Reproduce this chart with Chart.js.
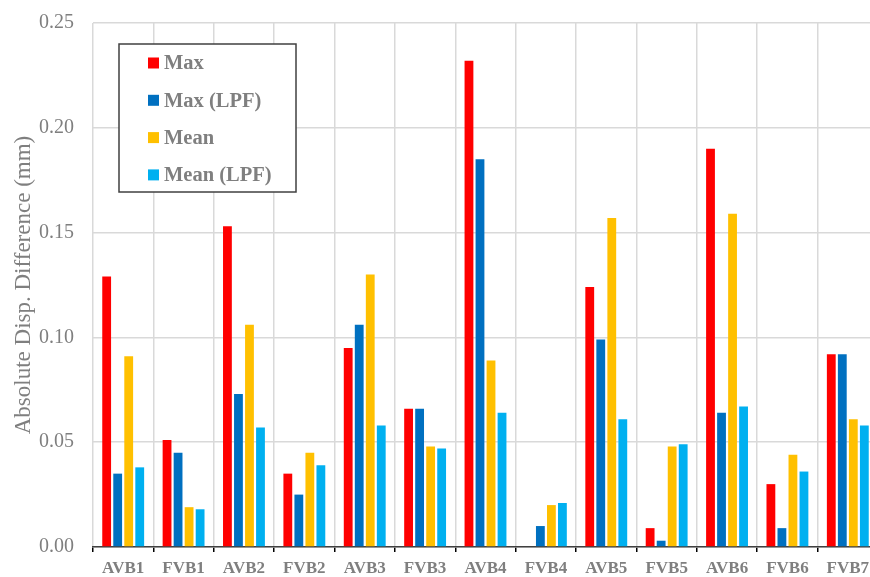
<!DOCTYPE html>
<html>
<head>
<meta charset="utf-8">
<script src="https://cdn.jsdelivr.net/npm/chart.js@4/dist/chart.umd.min.js"></script>
<style>
  html, body { margin: 0; padding: 0; background: #fff; overflow: hidden; }
  canvas { display: block; }
</style>
</head>
<body>
<canvas id="chart" width="880" height="577"></canvas>
<script>
const categories = ['AVB1', 'FVB1', 'AVB2', 'FVB2', 'AVB3', 'FVB3', 'AVB4', 'FVB4', 'AVB5', 'FVB5', 'AVB6', 'FVB6', 'FVB7'];
const maxValues     = [0.129, 0.051, 0.153, 0.035, 0.095, 0.066, 0.232, 0.000, 0.124, 0.009, 0.190, 0.030, 0.092];
const maxLpfValues  = [0.035, 0.045, 0.073, 0.025, 0.106, 0.066, 0.185, 0.010, 0.099, 0.003, 0.064, 0.009, 0.092];
const meanValues    = [0.091, 0.019, 0.106, 0.045, 0.130, 0.048, 0.089, 0.020, 0.157, 0.048, 0.159, 0.044, 0.061];
const meanLpfValues = [0.038, 0.018, 0.057, 0.039, 0.058, 0.047, 0.064, 0.021, 0.061, 0.049, 0.067, 0.036, 0.058];
const yTicks = [0, 0.05, 0.10, 0.15, 0.20, 0.25];

const SERIF = "'Liberation Serif', 'Times New Roman', serif";
const GREY = '#7f7f7f';

// legend drawn as a framed box inside the plot, like the original
const boxLegend = {
    id: 'boxLegend',
    afterDraw(chart) {
        const ctx = chart.ctx;
        const x0 = 119, y0 = 44, w = 177, h = 148;
        ctx.save();
        ctx.fillStyle = '#fff';
        ctx.fillRect(x0, y0, w, h);
        ctx.strokeStyle = '#404040';
        ctx.lineWidth = 1.5;
        ctx.strokeRect(x0, y0, w, h);
        ctx.font = `bold 20.5px ${SERIF}`;
        ctx.textBaseline = 'middle';
        chart.data.datasets.forEach((ds, i) => {
            const cy = 63 + i * 37.3;
            ctx.fillStyle = ds.backgroundColor;
            ctx.fillRect(148, cy - 5.5, 11, 11);
            ctx.fillStyle = GREY;
            ctx.fillText(ds.label, 164, cy + 1);
        });
        ctx.restore();
    }
};

new Chart(document.getElementById('chart'), {
    type: 'bar',
    data: {
        labels: categories,
        datasets: [
            { label: 'Max', data: maxValues, backgroundColor: '#FF0000' },
            { label: 'Max (LPF)', data: maxLpfValues, backgroundColor: '#0070C0' },
            { label: 'Mean', data: meanValues, backgroundColor: '#FFC000' },
            { label: 'Mean (LPF)', data: meanLpfValues, backgroundColor: '#00B0F0' },
        ]
    },
    options: {
        responsive: false,
        animation: false,
        devicePixelRatio: 1,
        layout: { padding: { top: 23, right: 2, left: 0, bottom: 0 } },
        datasets: {
            bar: { categoryPercentage: 0.73, barPercentage: 0.8 }
        },
        plugins: {
            legend: { display: false },
            tooltip: { enabled: false }
        },
        scales: {
            x: {
                grid: {
                    color: '#d9d9d9',
                    lineWidth: 1.5,
                    tickColor: '#000',
                    tickLength: 5,
                    drawTicks: true
                },
                border: { color: '#404040', width: 1.5 },
                ticks: {
                    color: GREY,
                    font: { family: SERIF, size: 17, weight: 'bold' },
                    padding: 6,
                    maxRotation: 0,
                    autoSkip: false
                },
                afterFit(scale) { scale.height = 30; }
            },
            y: {
                min: 0,
                max: 0.25,
                afterBuildTicks(scale) { scale.ticks = yTicks.map(v => ({ value: v })); },
                grid: { color: '#d9d9d9', lineWidth: 1.5, drawTicks: false },
                border: { display: false },
                ticks: {
                    color: GREY,
                    font: { family: SERIF, size: 20 },
                    padding: 19,
                    callback: v => v.toFixed(2)
                },
                title: {
                    display: true,
                    text: 'Absolute Disp. Difference (mm)',
                    color: GREY,
                    font: { family: SERIF, size: 23 },
                    padding: { top: 10, bottom: 0 }
                },
                afterFit(scale) {
                    scale.width = 93;
                    scale.paddingTop = 0;
                    scale.paddingBottom = 0;
                }
            }
        }
    },
    plugins: [boxLegend]
});
</script>
</body>
</html>
